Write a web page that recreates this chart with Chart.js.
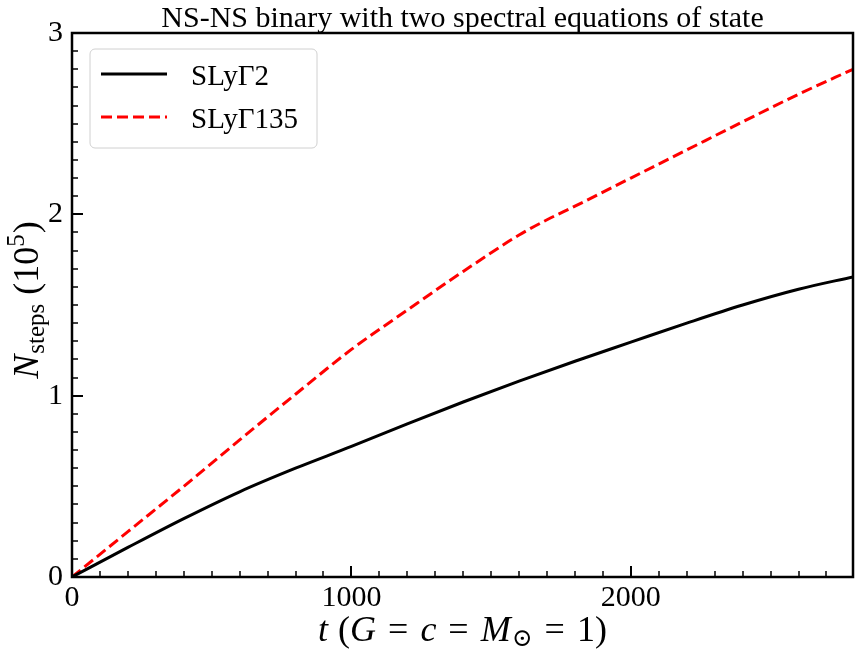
<!DOCTYPE html>
<html>
<head>
<meta charset="utf-8">
<script src="https://cdn.jsdelivr.net/npm/chart.js@4.4.1/dist/chart.umd.min.js"></script>
<style>
    html, body { margin: 0; padding: 0; background: #fff; }
    #wrap { width: 861px; height: 660px; }
</style>
</head>
<body>
<div id="wrap"><canvas id="steps-line-chart"></canvas></div>
<script>
const titleText = 'NS-NS binary with two spectral equations of state'
const seriesNames = ['SLyΓ2', 'SLyΓ135']

const timeSly2 = [0, 200, 400, 600, 800, 1000, 1200, 1400, 1600, 1800, 2000, 2200, 2400, 2600, 2795]
const stepsSly2 = [0, 0.163, 0.322, 0.47, 0.60, 0.72, 0.845, 0.965, 1.08, 1.19, 1.295, 1.40, 1.50, 1.587, 1.655]

const timeSly135 = [0, 200, 400, 600, 800, 1000, 1200, 1400, 1600, 1700, 1800, 2000, 2200, 2400, 2600, 2795]
const stepsSly135 = [0, 0.25, 0.5, 0.756, 1.008, 1.255, 1.472, 1.685, 1.886, 1.97, 2.045, 2.20, 2.355, 2.51, 2.662, 2.80]

const xTicks = [0, 1000, 2000]
const yTicks = [0, 1, 2, 3]
const xMax = 2795
const yMax = 3

const serif = "'Liberation Serif', 'DejaVu Serif', serif"

const toPoints = (xs, ys) => xs.map((x, i) => ({ x, y: ys[i] }))

// draws a list of [text, font, dy, extraGap] pieces one after another
const drawRich = (ctx, pieces, x, y, align) => {
    let width = 0
    for (const p of pieces) {
        ctx.font = p[1]
        width += ctx.measureText(p[0]).width + (p[3] || 0)
    }
    let cx = align === 'center' ? x - width / 2 : x
    ctx.textAlign = 'left'
    ctx.textBaseline = 'alphabetic'
    for (const p of pieces) {
        ctx.font = p[1]
        ctx.fillText(p[0], cx, y + (p[2] || 0))
        cx += ctx.measureText(p[0]).width + (p[3] || 0)
    }
}

const decorPlugin = {
    id: 'decor',
    afterDatasetsDraw: chart => {
        const { ctx, chartArea: area, scales } = chart
        const x = scales.x
        const y = scales.y

        ctx.save()
        ctx.strokeStyle = '#000'

        // inward ticks on bottom and left
        for (let v = 0; v <= xMax; v += 100) {
            const px = Math.round(x.getPixelForValue(v))
            const major = v % 1000 === 0
            ctx.lineWidth = major ? 2 : 1.5
            ctx.beginPath()
            ctx.moveTo(px, area.bottom)
            ctx.lineTo(px, area.bottom - (major ? 11 : 6))
            ctx.stroke()
        }
        for (let i = 0; i <= yMax * 10; i++) {
            const py = Math.round(y.getPixelForValue(i / 10))
            const major = i % 10 === 0
            ctx.lineWidth = major ? 2 : 1.5
            ctx.beginPath()
            ctx.moveTo(area.left, py)
            ctx.lineTo(area.left + (major ? 11 : 6), py)
            ctx.stroke()
        }

        ctx.lineWidth = 2.5
        ctx.strokeRect(area.left, area.top, area.right - area.left, area.bottom - area.top)
        ctx.restore()
    },
    afterDraw: chart => {
        const { ctx, chartArea: area } = chart
        const midX = (area.left + area.right) / 2

        ctx.save()
        ctx.fillStyle = '#000'

        ctx.font = `30px ${serif}`
        ctx.textAlign = 'center'
        ctx.textBaseline = 'alphabetic'
        ctx.fillText(titleText, midX, 27)

        const it = `italic 36px ${serif}`
        const rm = `36px ${serif}`
        const sm = `25px ${serif}`
        drawRich(ctx, [
            ['t', it, 0, 10],
            ['(', rm],
            ['G', it, 0, 12],
            ['=', rm, 0, 12],
            ['c', it, 0, 12],
            ['=', rm, 0, 12],
            ['M', it, 0, 1],
            ['⊙', sm, 5, 12],
            ['=', rm, 0, 12],
            ['1)', rm]
        ], midX, 641, 'center')

        ctx.translate(38, (area.top + area.bottom) / 2 - 5)
        ctx.rotate(-Math.PI / 2)
        drawRich(ctx, [
            ['N', `italic 36px ${serif}`, 0, 1],
            ['steps', `25px ${serif}`, 6, 0],
            [' (10', `36px ${serif}`],
            ['5', `25px ${serif}`, -14, 1],
            [')', `36px ${serif}`]
        ], 0, 0, 'center')
        ctx.restore()

        // legend
        const box = { x: 90, y: 49, w: 227, h: 99 }
        ctx.save()
        ctx.beginPath()
        ctx.roundRect(box.x, box.y, box.w, box.h, 5)
        ctx.fillStyle = 'rgba(255,255,255,0.85)'
        ctx.fill()
        ctx.strokeStyle = '#d0d0d0'
        ctx.lineWidth = 1
        ctx.stroke()

        chart.data.datasets.forEach((ds, i) => {
            const ly = 74 + i * 43
            ctx.beginPath()
            ctx.strokeStyle = ds.borderColor
            ctx.lineWidth = ds.borderWidth
            ctx.setLineDash(ds.borderDash || [])
            ctx.moveTo(101, ly)
            ctx.lineTo(167, ly)
            ctx.stroke()
            ctx.setLineDash([])
            ctx.fillStyle = '#000'
            ctx.font = `29px ${serif}`
            ctx.textAlign = 'left'
            ctx.textBaseline = 'alphabetic'
            ctx.fillText(ds.label, 191, ly + 11)
        })
        ctx.restore()
    }
}

new Chart(document.querySelector('#steps-line-chart'), {
    type: 'line',
    data: {
        datasets: [
            {
                label: seriesNames[0],
                data: toPoints(timeSly2, stepsSly2),
                borderColor: '#000000',
                borderWidth: 3,
                pointRadius: 0,
                cubicInterpolationMode: 'monotone',
                fill: false
            },
            {
                label: seriesNames[1],
                data: toPoints(timeSly135, stepsSly135),
                borderColor: '#ff0000',
                borderWidth: 3,
                borderDash: [11, 5],
                pointRadius: 0,
                cubicInterpolationMode: 'monotone',
                fill: false
            }
        ]
    },
    options: {
        responsive: true,
        maintainAspectRatio: false,
        animation: false,
        layout: {
            padding: { top: 33, right: 8, left: 0, bottom: 0 }
        },
        plugins: {
            legend: { display: false },
            title: { display: false },
            tooltip: { enabled: false }
        },
        scales: {
            x: {
                type: 'linear',
                min: 0,
                max: xMax,
                grid: { display: false, drawTicks: false },
                border: { display: false },
                afterBuildTicks: scale => { scale.ticks = xTicks.map(value => ({ value })) },
                ticks: {
                    autoSkip: false,
                    maxRotation: 0,
                    padding: 3,
                    color: '#000',
                    font: { family: serif, size: 30 },
                    callback: v => String(v)
                },
                afterFit: scale => { scale.height = 83 }
            },
            y: {
                min: 0,
                max: yMax,
                grid: { display: false, drawTicks: false },
                border: { display: false },
                afterBuildTicks: scale => { scale.ticks = yTicks.map(value => ({ value })) },
                ticks: {
                    padding: 9,
                    color: '#000',
                    font: { family: serif, size: 30 },
                    callback: v => String(v)
                },
                afterFit: scale => { scale.width = 72 }
            }
        }
    },
    plugins: [decorPlugin]
})
</script>
</body>
</html>
